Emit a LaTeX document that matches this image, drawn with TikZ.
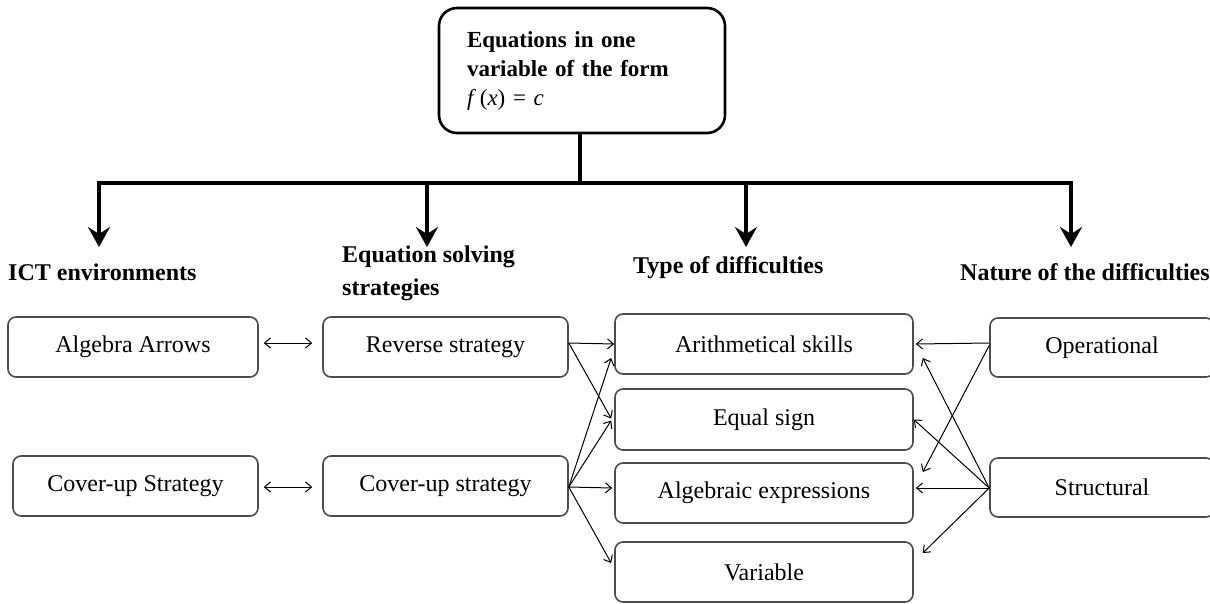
\documentclass[tikz,border=0pt]{standalone}
\usepackage{fontspec}
\setmainfont{Liberation Serif}
\usetikzlibrary{arrows.meta,calc}
\tikzset{
  box/.style={draw=black!70, line width=1.6pt, rounded corners=8pt, fill=white,
    font=\fontsize{24}{28}\selectfont, inner sep=0pt},
  lbl/.style={font=\fontsize{24}{33}\selectfont\bfseries, inner sep=0pt, align=left},
  thick arrow/.style={line width=3.5pt, -{Stealth[length=20pt,width=22pt,inset=7pt]}},
  trunk/.style={line width=3.5pt},
  thin arrow/.style={line width=1pt, -{Straight Barb[length=6pt,width=10pt]}},
  both arrow/.style={line width=1pt, {Straight Barb[length=6pt,width=10pt]}-{Straight Barb[length=6pt,width=10pt]}}
}
\newcommand{\mybox}[5]{% name, x1, y1, x2, y2 -- text after
  \node[box, minimum width={#4-#2}, minimum height={#5-#3}] (#1) at ({(#2+#4)/2},{(#3+#5)/2})}
\begin{document}
\begin{tikzpicture}[x=1pt,y=-1pt]
\useasboundingbox (0,0) rectangle (1210,603);
\clip (0,0) rectangle (1210,603);

% top box
\node[draw=black, line width=2.6pt, rounded corners=18pt, minimum width=286pt, minimum height=125pt,
  text width=230pt, inner xsep=28pt, align=left, font=\fontsize{23}{29}\selectfont\bfseries]
  (top) at (582,70.5) {Equations in one\\variable of the form\\{\mdseries\textit{f}\,(\textit{x}) = \textit{c}}};

\coordinate (junction) at (580,183);
\coordinate (c1) at (99,183);
\coordinate (c2) at (427,183);
\coordinate (c3) at (746,183);
\coordinate (c4) at (1071,183);
\coordinate (t1) at (99,247);
\coordinate (t2) at (427,247);
\coordinate (t3) at (746,247);
\coordinate (t4) at (1071,247);

\draw[trunk] (top.south -| junction) -- (junction);
\draw[trunk] (c1) -- (c4);
\draw[thick arrow] ([yshift=1.75pt]c1) -- (t1);
\draw[thick arrow] (c2) -- (t2);
\draw[thick arrow] (c3) -- (t3);
\draw[thick arrow] ([yshift=1.75pt]c4) -- (t4);

% headings
\node[lbl, anchor=west] (h1) at (8,272) {ICT environments};
\node[lbl, anchor=west] (h2) at (342,273) {Equation solving\\strategies};
\node[lbl, anchor=west] (h3) at (633,268) {Type of difficulties};
\node[lbl, anchor=west] (h4) at (960,272) {Nature of the difficulties};

% boxes
\mybox{AA}{8}{317}{258}{377} {Algebra Arrows};
\mybox{CS}{13}{456}{258}{516} {Cover-up Strategy};
\mybox{RS}{323}{317}{568}{377} {Reverse strategy};
\mybox{CU}{323}{456}{568}{516} {Cover-up strategy};
\mybox{AR}{615}{314}{913}{374} {Arithmetical skills};
\mybox{EQ}{615}{389}{913}{450} {Equal sign};
\mybox{AL}{615}{463}{913}{523} {Algebraic expressions};
\mybox{VA}{615}{542}{913}{602} {Variable};
\mybox{OP}{990}{318}{1214}{377} {Operational};
\mybox{ST}{990}{458}{1214}{517} {Structural};

% double arrows
\draw[both arrow] ([xshift=5pt,yshift=4pt]AA.east) -- ([xshift=-10pt,yshift=4pt]RS.west);
\draw[both arrow] ([xshift=5pt,yshift=-1pt]CS.east) -- ([xshift=-10pt,yshift=-1pt]CU.west);

% strategies -> difficulties
\draw[thin arrow] ([yshift=4pt]RS.east) -- ([yshift=0pt]AR.west);
\draw[thin arrow] ([yshift=4pt]RS.east) -- ([xshift=-3pt,yshift=1pt]EQ.west);
\draw[thin arrow] ([yshift=-1pt]CU.east) -- ([xshift=-3pt,yshift=-14pt]AR.west);
\draw[thin arrow] ([yshift=-1pt]CU.east) -- ([xshift=-3pt,yshift=-1pt]EQ.west);
\draw[thin arrow] ([yshift=-1pt]CU.east) -- ([xshift=-2pt,yshift=5pt]AL.west);
\draw[thin arrow] ([yshift=-1pt]CU.east) -- ([xshift=-3pt,yshift=9pt]VA.west);

% nature -> difficulties
\draw[thin arrow] ([yshift=4.5pt]OP.west) -- ([xshift=2pt,yshift=0pt]AR.east);
\draw[thin arrow] ([yshift=2pt]OP.west) -- ([xshift=9pt,yshift=21pt]AL.east);
\draw[thin arrow] ([yshift=-0.5pt]ST.west) -- ([xshift=9pt,yshift=-14pt]AR.east);
\draw[thin arrow] ([yshift=-0.5pt]ST.west) -- ([xshift=0pt,yshift=0pt]EQ.east);
\draw[thin arrow] ([yshift=-0.5pt]ST.west) -- ([xshift=2pt,yshift=5pt]AL.east);
\draw[thin arrow] ([yshift=-0.5pt]ST.west) -- ([xshift=9pt,yshift=19pt]VA.east);
\end{tikzpicture}
\end{document}
